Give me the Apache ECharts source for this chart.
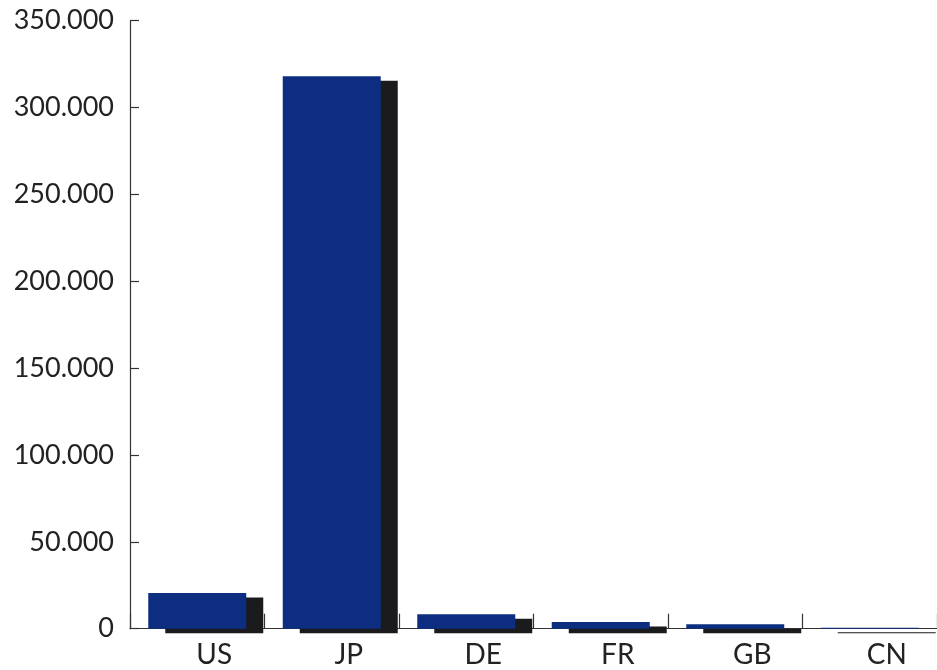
<!DOCTYPE html>
<html>
<head>
<meta charset="utf-8">
<title>Bar chart by country</title>
<script src="https://cdn.jsdelivr.net/npm/echarts@6/dist/echarts.min.js"></script>
<style>
  html, body { margin: 0; padding: 0; background: #ffffff; }
  #chart { width: 937px; height: 670px; }
</style>
</head>
<body>
<div id="chart"></div>
<script>
// Countries along the category axis
const countries = ['US', 'JP', 'DE', 'FR', 'GB', 'CN'];
// Value per country
const values = [20600, 318000, 8350, 3900, 2500, 600];
// Value axis range and step
const yMin = 0;
const yMax = 350000;
const yStep = 50000;

// Dotted thousands separator, e.g. 350.000
function formatThousands(v) {
  return String(Math.round(v)).replace(/\B(?=(\d{3})+(?!\d))/g, '.');
}

const chart = echarts.init(document.getElementById('chart'), null, { renderer: 'canvas' });

const textColor = '#222222';
const fontFamily = 'Lato, "Open Sans", sans-serif';

chart.setOption({
  animation: false,
  backgroundColor: '#ffffff',
  grid: { left: 130, top: 20.7, width: 816, height: 608, containLabel: false },
  xAxis: {
    type: 'category',
    data: countries,
    boundaryGap: true,
    axisLine: { show: true, lineStyle: { color: '#333333', width: 1.2 } },
    axisTick: { show: true, inside: true, length: 15, lineStyle: { color: '#333333', width: 1.2 } },
    axisLabel: {
      color: textColor,
      fontFamily: fontFamily,
      fontSize: 28,
      margin: 12,
      padding: [0, 0, 0, 34]
    },
    splitLine: { show: false }
  },
  yAxis: {
    type: 'value',
    min: yMin,
    max: yMax,
    interval: yStep,
    axisLine: { show: true, lineStyle: { color: '#333333', width: 1.2 } },
    axisTick: { show: true, inside: true, length: 9, lineStyle: { color: '#333333', width: 1.2 } },
    axisLabel: {
      color: textColor,
      fontFamily: fontFamily,
      fontSize: 27,
      margin: 16,
      formatter: formatThousands
    },
    splitLine: { show: false }
  },
  series: [{
    type: 'bar',
    data: values,
    barWidth: 98,
    itemStyle: {
      color: '#0d2e80',
      borderWidth: 0,
      shadowColor: '#1b1b1d',
      shadowBlur: 0,
      shadowOffsetX: 17,
      shadowOffsetY: 4.5
    }
  }]
});
</script>
</body>
</html>
